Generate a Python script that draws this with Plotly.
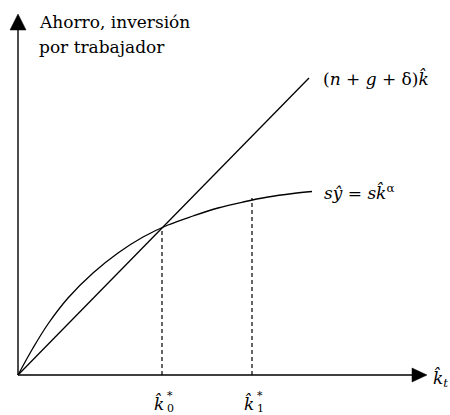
import plotly.graph_objects as go

# Capital per effective worker (horizontal units) and the two curves
k_curve = [0, 15, 30, 50, 75, 100, 125, 150, 175, 200, 225, 250, 275, 294]
sy_curve = [0, 27, 51, 77, 102, 122, 138, 150, 159, 167, 173, 178, 181.5, 183.5]

k_line = [0, 291]
breakeven = [0, 297]

# Steady states
k_star = [144, 234]
k_star_height = [147, 177]
k_star_labels = ["0", "1"]

# Axis extents
x_end = 394
y_end = 345

INK = "black"
SERIF = '"DejaVu Serif", "Liberation Serif", serif'

fig = go.Figure()

# Axes
fig.add_trace(go.Scatter(x=[0, x_end], y=[0, 0], mode="lines",
                         line=dict(color=INK, width=1.4), hoverinfo="skip"))
fig.add_trace(go.Scatter(x=[0, 0], y=[0, y_end], mode="lines",
                         line=dict(color=INK, width=1.4), hoverinfo="skip"))
# Arrow heads
fig.add_trace(go.Scatter(x=[x_end, x_end + 15, x_end, x_end], y=[7, 0, -7, 7],
                         mode="lines", fill="toself", fillcolor=INK,
                         line=dict(color=INK, width=0.5), hoverinfo="skip"))
fig.add_trace(go.Scatter(x=[-8, 0, 8, -8], y=[y_end, y_end + 16, y_end, y_end],
                         mode="lines", fill="toself", fillcolor=INK,
                         line=dict(color=INK, width=0.5), hoverinfo="skip"))

# Break-even investment line
fig.add_trace(go.Scatter(x=k_line, y=breakeven, mode="lines",
                         line=dict(color=INK, width=1.3), hoverinfo="skip"))
# Saving curve
fig.add_trace(go.Scatter(x=k_curve, y=sy_curve, mode="lines",
                         line=dict(color=INK, width=1.3, shape="spline",
                                   smoothing=1.0),
                         hoverinfo="skip"))

# Dashed drop lines at the steady states
for k, h in zip(k_star, k_star_height):
    fig.add_trace(go.Scatter(x=[k, k], y=[0, h], mode="lines",
                             line=dict(color=INK, width=1.2, dash="4px,3px"),
                             hoverinfo="skip"))

ann = []
font = dict(family=SERIF, size=17, color=INK)
small = dict(family=SERIF, size=11, color=INK)
ann.append(dict(x=19, y=353, text="Ahorro, inversión", xanchor="left",
                yanchor="middle", showarrow=False, font=font))
ann.append(dict(x=19, y=328, text="por trabajador", xanchor="left",
                yanchor="middle", showarrow=False, font=font))
ann.append(dict(x=303, y=297, text="(<i>n</i> + <i>g</i> + δ)<i>k̂</i>",
                xanchor="left", yanchor="middle", showarrow=False, font=font))
ann.append(dict(x=304, y=183, text="<i>sŷ</i> = <i>sk̂</i><sup>α</sup>",
                xanchor="left", yanchor="middle", showarrow=False, font=font))
for k, lab in zip(k_star, k_star_labels):
    ann.append(dict(x=k - 3, y=-28, text="<i>k̂</i>",
                    xanchor="center", yanchor="middle", showarrow=False,
                    font=font))
    ann.append(dict(x=k + 3, y=-33, text=lab, xanchor="left",
                    yanchor="middle", showarrow=False, font=small))
    ann.append(dict(x=k + 3, y=-20, text="*", xanchor="left",
                    yanchor="middle", showarrow=False, font=small))
ann.append(dict(x=413, y=-3, text="<i>k̂</i><sub><i>t</i></sub>",
                xanchor="left", yanchor="middle", showarrow=False, font=font))

fig.update_layout(
    width=450, height=415,
    margin=dict(l=0, r=0, t=0, b=0),
    paper_bgcolor="white", plot_bgcolor="white",
    showlegend=False,
    annotations=ann,
    xaxis=dict(range=[-18, 432], visible=False, fixedrange=True),
    yaxis=dict(range=[-40, 375], visible=False, fixedrange=True),
)

fig.write_html("out.html")
